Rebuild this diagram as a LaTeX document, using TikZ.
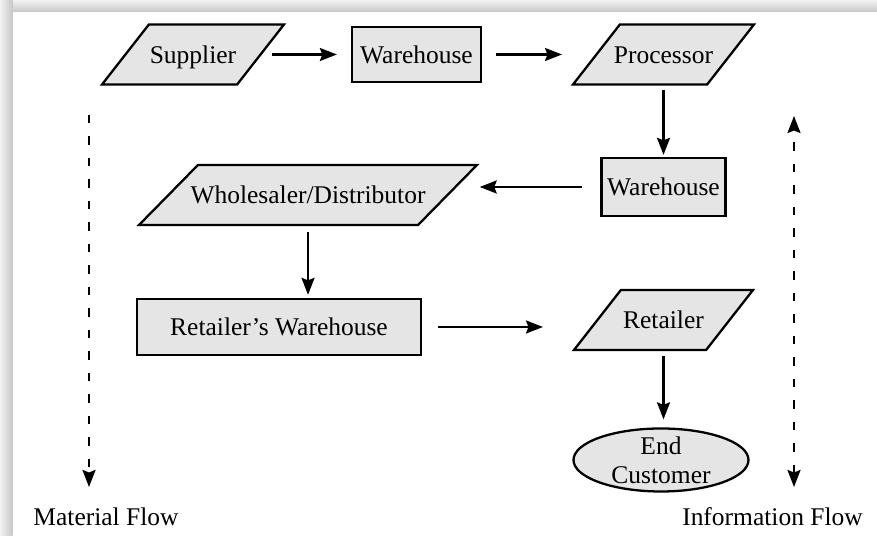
\documentclass[tikz,border=0pt]{standalone}
\usepackage{fontspec}
\setmainfont{Liberation Serif}
\usetikzlibrary{shapes.geometric,arrows.meta}
\tikzset{
	>={Stealth[length=0.34cm, width=0.26cm, inset=0.05cm]},
	parabox/.style={draw, fill=black!10, trapezium, trapezium left angle=52, trapezium right angle=128, trapezium stretches body, text height=0.42cm, text depth=0.06cm, inner xsep=-0.3cm, inner ysep=0.36cm},
	rectbox/.style={draw, fill=black!10, rectangle, inner sep=0pt},
	endbox/.style={draw, fill=black!10, ellipse, inner sep=0pt, minimum width=3.5cm, minimum height=1.26cm},
	arr/.style={->},
	flowarr/.style={dash pattern=on 0.17cm off 0.26cm}
}

\begin{document}
\begin{tikzpicture}[font=\fontsize{14.5}{16.5}\selectfont, line width=1.3pt]
			%%%%% FRAME %%%%%
			\useasboundingbox (0,0) rectangle (17.54,10.72);
			\shade[top color=black!5, bottom color=black!22] (0,10.48) rectangle (17.54,10.72);
			\shade[left color=black!5, right color=black!22] (0,0) rectangle (0.25,10.72);
			
			%%%%% BOXES %%%%%
			\node[parabox, minimum width=3.64cm] (sup) at (3.86,9.63) {Supplier};
			\node[rectbox, minimum width=2.58cm, minimum height=1.1cm] (wh1) at (8.33,9.63) {Warehouse};
			\node[parabox, minimum width=3.62cm] (proc) at (13.27,9.63) {Processor};
			
			\node[rectbox, minimum width=2.48cm, minimum height=1.16cm] (wh2) at (13.27,6.98) {Warehouse};
			\node[parabox, trapezium left angle=45.5, trapezium right angle=134.5, minimum width=6.76cm] (whole) at (6.16,6.82) {Wholesaler/Distributor};
			
			\node[rectbox, minimum width=5.68cm, minimum height=1.12cm] (rwh) at (5.58,4.18) {Retailer’s Warehouse};
			\node[parabox, minimum width=3.58cm] (ret) at (13.27,4.32) {Retailer};
			\node[endbox, label={[align=center]center:End\\Customer}] (endc) at (13.22,1.52) {};
			
			%%%%% ARROWS %%%%%
			\draw[arr] ([xshift=1.58cm]sup.center) -- ([xshift=-0.28cm]wh1.west);
			\draw[arr] ([xshift=0.28cm]wh1.east) -- ([xshift=-2.03cm]proc.center);
			\draw[arr] ([yshift=-0.08cm]proc.south) -- ([yshift=0.04cm]proc.south |- wh2.north);
			\draw[arr] ([xshift=-0.36cm]wh2.west) -- (wh2.west -| whole.top right corner);
			\draw[arr] ([yshift=-0.12cm]whole.south) -- ([yshift=0.06cm]whole.south |- rwh.north);
			\draw[arr] ([xshift=0.32cm]rwh.east) -- ([xshift=-2.41cm]ret.center |- rwh.east);
			\draw[arr] ([yshift=-0.1cm]ret.south) -- ([yshift=0.16cm]ret.south |- endc.north);
			
			%%%%% FLOWS %%%%%
			\coordinate (mtop) at (1.78,8.42);
			\coordinate (mbot) at (1.78,0.98);
			\coordinate (itop) at (15.88,8.40);
			\coordinate (ibot) at (15.88,0.98);
			\draw[arr, flowarr] (mtop) -- (mbot);
			\draw[flowarr, <->] (ibot) -- (itop);
			
			\node (mflow) at (2.12,0.38) {Material Flow};
			\node (iflow) at (15.45,0.38) {Information Flow};
\end{tikzpicture}
\end{document}
